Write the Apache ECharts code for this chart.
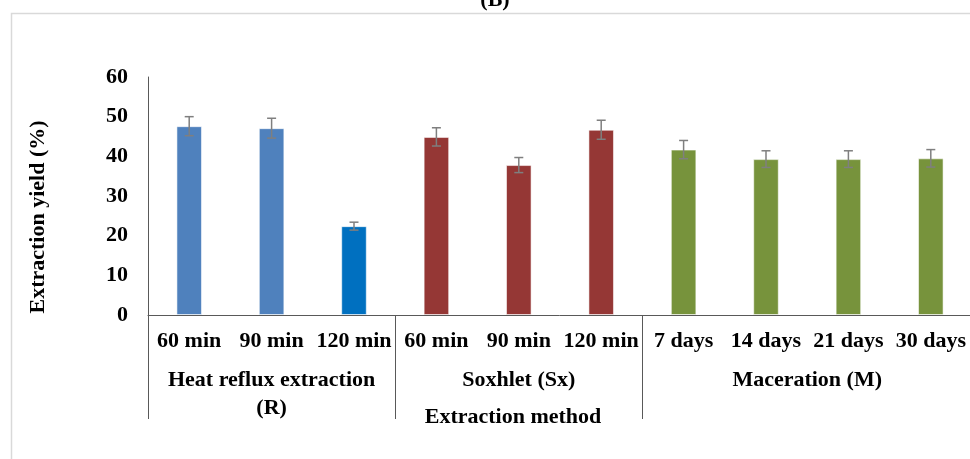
<!DOCTYPE html>
<html>
<head>
<meta charset="utf-8">
<script src="https://cdn.jsdelivr.net/npm/echarts@6/dist/echarts.min.js"></script>
<style>
html,body{margin:0;padding:0;background:#fff;}
#chart{width:970px;height:459px;}
</style>
</head>
<body>
<div id="chart"></div>
<script>
// ---- data ----
const categories = ['60 min', '90 min', '120 min', '60 min', '90 min', '120 min', '7 days', '14 days', '21 days', '30 days'];
const yieldValues = [47.6, 47.1, 22.4, 44.9, 37.8, 46.7, 41.7, 39.3, 39.3, 39.5];
const yieldErrors = [2.4, 2.5, 1.0, 2.3, 1.9, 2.4, 2.3, 2.1, 2.1, 2.2];
const groupNames = ['Heat reflux extraction\n(R)', 'Soxhlet (Sx)', 'Maceration (M)'];
const groupSizes = [3, 3, 4];
const yTicks = [0, 10, 20, 30, 40, 50, 60];
const yTitle = 'Extraction yield (%)';
const xTitle = 'Extraction method';

// ---- derived ----
const groupOf = [];
const groupStarts = [];
const groupCenters = {};
let acc = 0;
groupSizes.forEach((s, g) => {
  groupStarts.push(acc);
  groupCenters[(acc + s / 2).toFixed(1)] = groupNames[g];
  for (let k = 0; k < s; k++) groupOf.push(g);
  acc += s;
});
const groupColors = ['#4F81BD', '#953735', '#77933C'];
const specialColor = { 2: '#0070C0' };

const FONT = 'Liberation Serif';
const FS = 22;
const axisGray = '#595959';

const chart = echarts.init(document.getElementById('chart'));
chart.setOption({
  animation: false,
  backgroundColor: '#fff',
  grid: { left: 148, right: -2, top: 77, bottom: 144, containLabel: false, outerBoundsMode: 'none' },
  xAxis: [
    {
      type: 'category',
      data: categories,
      position: 'bottom',
      axisLine: { show: true, lineStyle: { color: axisGray, width: 1 } },
      axisTick: {
        show: true,
        length: 104,
        interval: (i) => groupStarts.indexOf(i) >= 0,
        lineStyle: { color: axisGray, width: 1 }
      },
      axisLabel: {
        interval: 0, margin: 15, hideOverlap: false,
        fontFamily: FONT, fontWeight: 'bold', fontSize: FS, color: '#000'
      },
      splitLine: { show: false }
    },
    {
      type: 'value',
      min: 0, max: categories.length, interval: 0.5,
      position: 'bottom',
      axisLine: { show: false },
      axisTick: { show: false },
      splitLine: { show: false },
      axisLabel: {
        margin: 51,
        showMinLabel: true, showMaxLabel: true,
        fontFamily: FONT, fontWeight: 'bold', fontSize: FS, color: '#000', lineHeight: 28,
        formatter: (v) => groupCenters[Number(v).toFixed(1)] || ''
      }
    }
  ],
  yAxis: {
    type: 'value',
    min: yTicks[0], max: yTicks[yTicks.length - 1], interval: 10,
    axisLine: { show: true, lineStyle: { color: axisGray, width: 1 } },
    axisTick: { show: false },
    splitLine: { show: false },
    axisLabel: { margin: 20, fontFamily: FONT, fontWeight: 'bold', fontSize: FS, color: '#000' }
  },
  series: [
    {
      type: 'bar',
      xAxisIndex: 0,
      data: yieldValues,
      barWidth: '31%',
      itemStyle: {
        color: (p) => specialColor[p.dataIndex] || groupColors[groupOf[p.dataIndex]],
        borderColor: 'rgba(255,255,255,0.55)',
        borderWidth: 1
      }
    },
    {
      type: 'custom',
      xAxisIndex: 0,
      data: yieldValues.map((v, i) => [i, v, yieldErrors[i]]),
      renderItem: (params, api) => {
        const i = api.value(0), v = api.value(1), e = api.value(2);
        const top = api.coord([i, v + e]);
        const bot = api.coord([i, v - e]);
        const hw = 4.5;
        const style = { stroke: '#7F7F7F', lineWidth: 1.5, fill: null };
        return {
          type: 'group',
          children: [
            { type: 'line', shape: { x1: top[0], y1: top[1], x2: bot[0], y2: bot[1] }, style },
            { type: 'line', shape: { x1: top[0] - hw, y1: top[1], x2: top[0] + hw, y2: top[1] }, style },
            { type: 'line', shape: { x1: bot[0] - hw, y1: bot[1], x2: bot[0] + hw, y2: bot[1] }, style }
          ]
        };
      },
      z: 5
    }
  ],
  graphic: [
    {
      type: 'rect', left: 9, top: 11, z: -10, silent: true,
      shape: { width: 1000, height: 500 },
      style: { fill: null, stroke: '#D9D9D9', lineWidth: 1.5 }
    },
    {
      type: 'text', x: 495, y: -11,
      style: { text: '(B)', fontFamily: FONT, fontWeight: 'bold', fontSize: FS, fill: '#000', textAlign: 'center', textVerticalAlign: 'top' }
    },
    {
      type: 'text', x: 513, y: 406,
      style: { text: xTitle, fontFamily: FONT, fontWeight: 'bold', fontSize: FS, fill: '#000', textAlign: 'center', textVerticalAlign: 'top' }
    },
    {
      type: 'text', x: 38, y: 217, rotation: Math.PI / 2,
      style: { text: yTitle, fontFamily: FONT, fontWeight: 'bold', fontSize: FS, fill: '#000', textAlign: 'center', textVerticalAlign: 'middle' }
    }
  ]
});
</script>
</body>
</html>
